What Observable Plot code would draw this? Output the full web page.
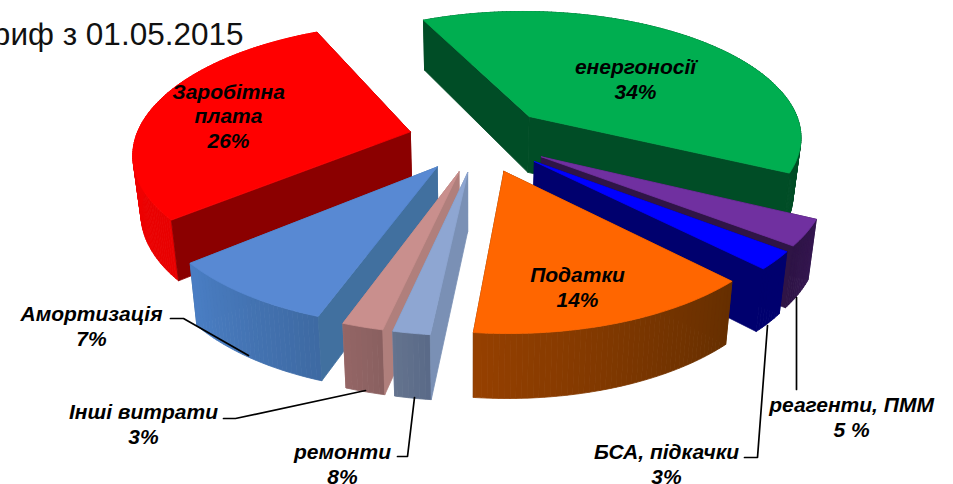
<!DOCTYPE html>
<html><head><meta charset="utf-8">
<script src="https://cdn.jsdelivr.net/npm/d3@7"></script>
<script src="https://cdn.jsdelivr.net/npm/@observablehq/plot@0.6"></script>
<style>html,body{margin:0;padding:0;background:#fff}svg{display:block}</style>
</head><body><div id="chart"></div>
<script>
// Data
const names = ["енергоносії","реагенти, ПММ","БСА, підкачки","Податки","ремонти","Інші витрати","Амортизація","Заробітна\nплата"];
const printed = ["34%","5 %","3%","14%","8%","3%","7%","26%"];
// share of the circle each slice actually occupies in the drawing, % (differs from the printed labels)
const shares = [39.2,3.2,2.2,14,1.8,2,8.5,29.1];
const title = "Тариф з 01.05.2015";

// Styles
const topColor   = ["#00ae50","#7030a0","#0000ff","#ff6600","#8ea6d2","#c98f8d","#5889d3","#ff0000"];
const wallColor  = ["#004d26","#2f1446","#00006e","#6a3000","#7a90b5","#b07f7c","#41709f","#8b0000"];
const rimFrom    = ["#004d26","#341650","#00006e","#662f00","#5a6a88","#8a6060","#3e6aa3","#e80000"];
const rimTo      = ["#004d26","#2f1446","#00006e","#964000","#64738e","#946666","#4a7ec4","#ff0000"];
const drawOrder  = [0,7,1,2,3,6,5,4];

// Annotation layout (in the chart's coordinate frame)
const labelX = [635,851,666,577,342,143,91,228];
const labelY = [78,416,463,286,463,423,325,115];
const leaders = [
  {id:6, pts:[[170,318],[183,318],[248,355]]},
  {id:5, pts:[[223,418],[235,418],[365,390]]},
  {id:4, pts:[[397,456],[407,456],[414,397]]},
  {id:2, pts:[[744,457],[757,457],[767,325]]},
  {id:1, pts:[[796,389],[796,297]]}
];

// Pie geometry: a tilted disc under perspective; slices pulled out on the disc plane
const start = 335, explode = 0.26, cx = 479, cy = 138.5;
const Rx = 275, Ry = 127, k = 0.15, splay = 0.024, focusX = 470;
const rad = d => d * Math.PI / 180;
function toScreen(u, v) {
  const w = 1 - k * v;
  return [cx + Rx * u / w, cy + Ry * v / w, v];
}
function project(a, A) {
  return toScreen(Math.sin(rad(a)) + A[0], -Math.cos(rad(a)) + A[1]);
}
function lower(p) { // same point on the underside of the slab
  return [p[0] + (focusX - p[0]) * splay, p[1] + 57 + 6.4 * p[2]];
}
const rows = [];
let nextId = 0;
function poly(pts, fill) {
  const id = nextId++;
  for (const [x, y] of [...pts, pts[0]]) rows.push({id, x, y, fill});
}
let acc = start;
const spans = shares.map(s => { const a0 = acc; acc += s * 3.6; return [a0, acc]; });
for (const i of drawOrder) {
  const [a0, a1] = spans[i], m = (a0 + a1) / 2;
  const A = [explode * Math.sin(rad(m)), -explode * Math.cos(rad(m))];
  const apex = toScreen(A[0], A[1]), lowApex = lower(apex);
  const rim = d3.range(a0, a1, 1).concat([a1]);
  const radial = a => {
    const p = project(a, A);
    poly([apex, p, lower(p), lowApex], wallColor[i]);
  };
  const startFront = -Math.sin(rad(a0)) > 0, endFront = Math.sin(rad(a1)) > 0;
  if (!startFront) radial(a0);
  if (!endFront) radial(a1);
  const mix = d3.interpolateRgb(rimFrom[i], rimTo[i]);
  for (let j = 0; j + 1 < rim.length; j++) {
    const p = project(rim[j], A), q = project(rim[j + 1], A);
    poly([p, q, lower(q), lower(p)], mix(j / Math.max(1, rim.length - 2)));
  }
  if (startFront) radial(a0);
  if (endFront) radial(a1);
  poly([apex, ...rim.map(a => project(a, A))], topColor[i]);
}
const labels = names.map((n, i) => ({text: n + "\n" + printed[i], x: labelX[i], y: labelY[i]}));
const leaderRows = leaders.flatMap(l => l.pts.map(([x, y]) => ({id: l.id, x, y})));

const chart = Plot.plot({
  width: 953, height: 484,
  marginTop: 0, marginRight: 0, marginBottom: 0, marginLeft: 0,
  x: {domain: [0, 953], range: [0, 953], axis: null},
  y: {domain: [0, 484], range: [0, 484], axis: null},
  style: {background: "#fff"},
  marks: [
    Plot.line(rows, {x: "x", y: "y", z: "id", fill: "fill", stroke: "fill", strokeWidth: 0.8, curve: "linear"}),
    Plot.line(leaderRows, {x: "x", y: "y", z: "id", stroke: "#000", strokeWidth: 1.7, curve: "linear"}),
    Plot.text(labels, {x: "x", y: "y", text: "text", fontFamily: "Liberation Sans", fontSize: 21, fontWeight: "bold", fontStyle: "italic", fill: "#000", lineHeight: 1.18, textAnchor: "middle"}),
    Plot.text([title], {x: () => 243, y: () => 34, text: d => d, fontFamily: "Liberation Sans", fontSize: 31.5, fill: "#111", textAnchor: "end"})
  ]
});
document.getElementById("chart").append(chart);
</script>
</body></html>
